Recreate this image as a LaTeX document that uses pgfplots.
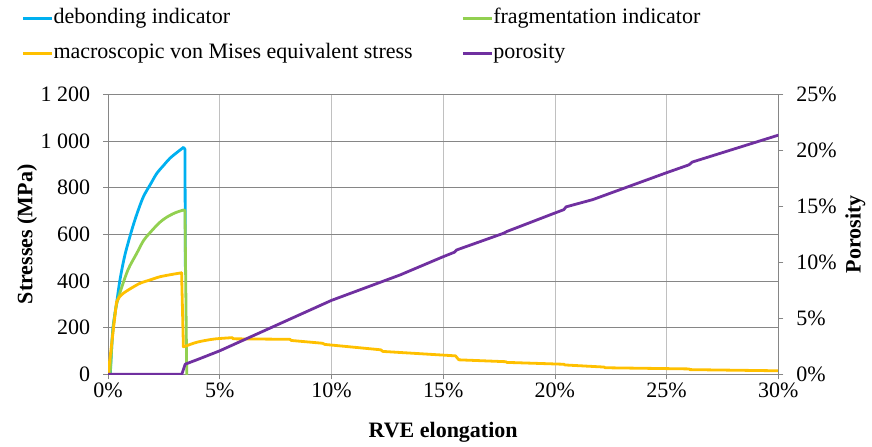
\documentclass[border=0pt]{standalone}
\usepackage{fontspec}
\setmainfont{Liberation Serif}
\usepackage{pgfplots}
\pgfplotsset{compat=1.18}

\definecolor{cblue}{HTML}{00B0F0}
\definecolor{cgreen}{HTML}{92D050}
\definecolor{corange}{HTML}{FFC000}
\definecolor{cpurple}{HTML}{7030A0}
\definecolor{axgray}{HTML}{868686}
\definecolor{gridv}{HTML}{C0C0C0}

\tikzset{lbl/.style={font=\bfseries\fontsize{11}{13}\selectfont, anchor=center}}

\pgfplotsset{
  base/.style={
    scale only axis, width=335.1pt, height=140pt,
    xmin=0, xmax=30,
    /pgf/number format/assume math mode=true,
    tick label style={font=\fontsize{11}{13}\selectfont},
    axis line style={draw=axgray,-},
    tick style={draw=axgray, thin},
    major tick length=2.5pt,
    tick align=outside,
    every axis plot/.append style={line width=1.4pt, line join=round, line cap=round},
  },
}

\begin{document}
\begin{tikzpicture}
\begin{axis}[base, name=ax,
  axis x line*=bottom, axis y line*=left,
  ymin=0, ymax=1200, ytick={0,200,...,1200},
  /pgf/number format/1000 sep={\ },
  xtick={0,5,...,30}, xticklabel={\pgfmathprintnumber{\tick}\%},
  xticklabel style={yshift=1.5pt}, yticklabel style={xshift=-3pt},
  xmajorgrids, ymajorgrids,
  x grid style={gridv, thin}, y grid style={axgray, thin},
  xlabel={RVE elongation}, ylabel={Stresses (MPa)},
  every axis x label/.style={lbl, at={(axis description cs:0.5,-0.207)}},
  every axis y label/.style={lbl, at={(axis description cs:-0.1209,0.5)}, rotate=90},
  legend columns=2,
  legend style={draw=none, fill=none, inner sep=0pt, outer sep=0pt,
    at={(axis description cs:-0.1289,1.305)}, anchor=north west,
    font=\fontsize{11}{13}\selectfont, row sep=7.5pt, column sep=0pt,
    nodes={inner xsep=0pt, inner ysep=0pt, text height=7.5pt, text depth=2.5pt}},
  legend cell align=left,
  legend image code/.code={\draw[#1, line width=1.4pt, line cap=butt] (0pt,0pt) -- (14.5pt,0pt);},
]
% debonding indicator
\addplot[cblue, smooth, tension=0.5] coordinates {
(0.10,0) (0.20,180) (0.31,261) (0.38,304) (0.53,404) (0.75,510) (1.06,618)
(1.30,690) (1.58,761) (1.90,815) (2.18,861) (2.50,897) (2.77,926) (3.10,952)
(3.37,972)
};
\addlegendentry{\makebox[204pt][l]{debonding indicator}}
% fragmentation indicator
\addplot[cgreen, smooth, tension=0.5] coordinates {
(0.09,0) (0.20,170) (0.30,255) (0.38,300) (0.60,370) (0.90,450) (1.28,518)
(1.60,575) (2.00,620) (2.30,650) (2.62,673) (3.00,692) (3.37,704)
};
\addlegendentry{fragmentation indicator}
% macroscopic von Mises equivalent stress
\addplot[corange, smooth, tension=0.5] coordinates {
(0.38,311) (0.50,330) (0.68,347) (1.00,367) (1.43,390) (1.90,405)
(2.32,418) (2.80,427) (3.29,435)
};
\addlegendentry{\makebox[204pt][l]{macroscopic von Mises equivalent stress}}
\addlegendimage{cpurple}
\addlegendentry{porosity}
% drops and remaining segments
\addplot[cblue, forget plot] coordinates {(3.37,972) (3.44,965) (3.46,461)};
\addplot[cgreen, forget plot] coordinates {(3.37,704) (3.44,702) (3.52,0)};
\addplot[corange, forget plot] coordinates {(0,0) (0.38,311)};
\addplot[corange, forget plot] coordinates {(3.29,435) (3.37,118)};
\addplot[corange, smooth, tension=0.5, forget plot] coordinates {
(3.37,118) (3.50,122) (4.00,138) (4.74,151) (5.56,157)
};
\addplot[corange, forget plot] coordinates {
(5.56,157) (5.60,152) (6.80,151) (8.14,150) (8.20,145) (9.60,133) (9.70,128)
(12.20,105) (12.30,98) (15.55,79) (15.70,62) (17.80,54) (17.85,51) (20.40,43)
(20.45,40) (22.20,31) (22.25,28) (26.00,23) (26.05,20) (30.00,15)
};
\end{axis}

\begin{axis}[base,
  axis y line*=right, axis x line=none,
  ymin=0, ymax=25, ytick={0,5,...,25},
  yticklabel={\pgfmathprintnumber{\tick}\%},
  yticklabel style={xshift=3pt},
  ylabel={Porosity},
  every axis y label/.style={lbl, at={(axis description cs:1.1149,0.5)}, rotate=90},
]
% porosity
\addplot[cpurple] coordinates {
(0,0) (3.30,0) (3.45,0.90) (4.11,1.40) (5.00,2.10) (10.00,6.60) (13.07,8.87)
(15.00,10.50) (15.50,10.90) (15.60,11.10) (17.70,12.59) (17.85,12.75)
(20.00,14.40) (20.40,14.70) (20.50,14.95) (21.70,15.60) (25.00,18.00)
(26.00,18.70) (26.15,18.95) (30.00,21.35)
};
\end{axis}

\pgfresetboundingbox
\path[use as bounding box] ([shift={(-54.05pt,-36.35pt)}]ax.south west)
  rectangle ([shift={(46.85pt,47.15pt)}]ax.north east);
\end{tikzpicture}
\end{document}
